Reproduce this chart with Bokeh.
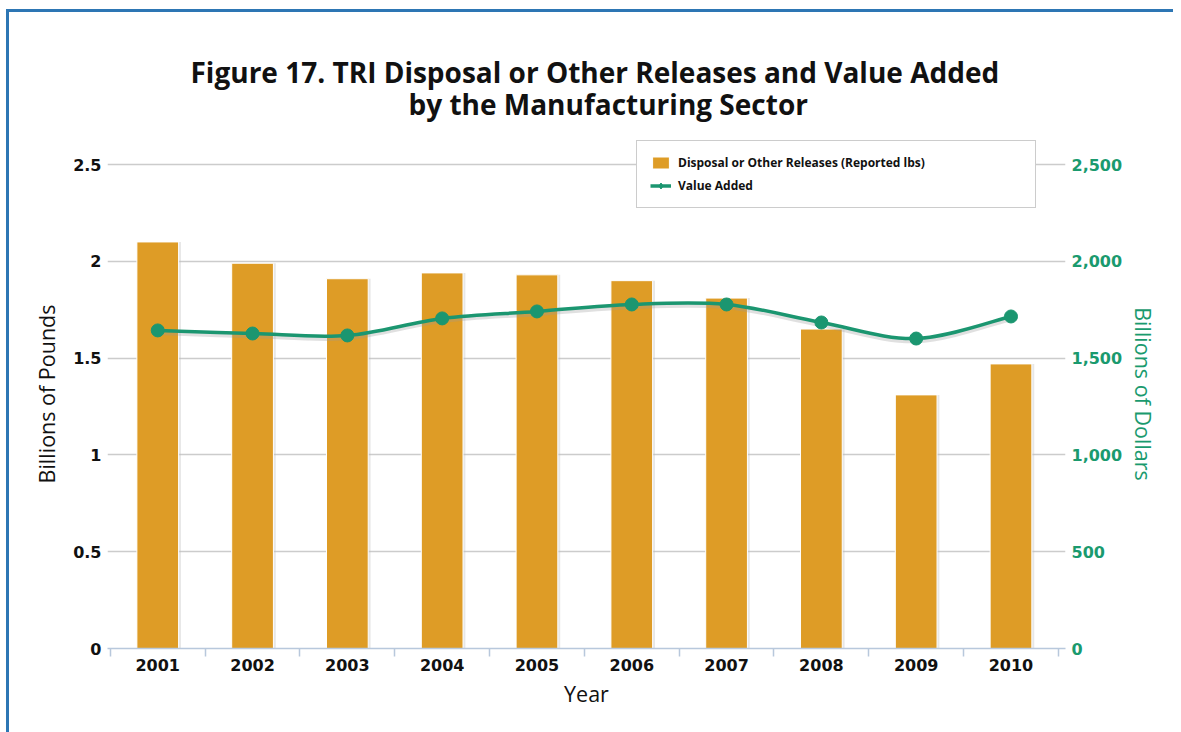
import numpy as np
from bokeh.plotting import figure
from bokeh.layouts import column
from bokeh.models import (Range1d, LinearAxis, FixedTicker, ColumnDataSource, Legend,
                          LegendItem, Label, NumeralTickFormatter)
from bokeh.embed import file_html
from bokeh.resources import INLINE

years = [2001, 2002, 2003, 2004, 2005, 2006, 2007, 2008, 2009, 2010]
releases_blbs = [2.10, 1.99, 1.91, 1.94, 1.93, 1.90, 1.81, 1.65, 1.31, 1.47]
value_added_busd = [1643, 1627, 1617, 1705, 1741, 1777, 1777, 1684, 1601, 1715]
left_ticks = [0, 0.5, 1, 1.5, 2, 2.5]
left_tick_labels = ["0", "0.5", "1", "1.5", "2", "2.5"]
right_ticks = [0, 500, 1000, 1500, 2000, 2500]
title_lines = ["Figure 17. TRI Disposal or Other Releases and Value Added",
               "by the Manufacturing Sector"]

BAR = "#de9c26"
GREEN = "#1b9670"
GREEN_TXT = "#1a9a6e"

FRAME_W = 958
FIG_W = 98 + FRAME_W + 108
TITLE_H = 110

# ---- title strip (its frame is aligned with the chart frame by the column) ----
t = figure(width=FIG_W, height=TITLE_H, x_range=Range1d(0, FRAME_W), y_range=Range1d(0, TITLE_H),
           x_axis_type=None, y_axis_type=None, output_backend="svg", toolbar_location=None,
           min_border=0)
t.outline_line_color = None
t.grid.grid_line_color = None
for txt, xpos, base in [(title_lines[0], 83, TITLE_H - 59), (title_lines[1], 301, TITLE_H - 91)]:
    t.add_layout(Label(x=xpos, y=base, text=txt, text_align="left", text_baseline="alphabetic",
                       text_font="Open Sans", text_font_style="bold", text_font_size="28px",
                       text_color="#111111"))

# ---- main chart --------------------------------------------------------
# frame is a little taller than the 0..2.5 grid so the legend fits above the top line
FRAME_H = 509
GRID_H = 484
head = FRAME_H / GRID_H

p = figure(frame_width=FRAME_W, frame_height=FRAME_H,
           x_range=Range1d(years[0] - 0.5 - 0.03, years[-1] + 0.5 + 0.075),
           y_range=Range1d(0, left_ticks[-1] * head),
           output_backend="svg", toolbar_location=None,
           min_border_left=98, min_border_right=108,
           min_border_top=17, min_border_bottom=84)
p.outline_line_color = None
p.background_fill_color = "white"
p.border_fill_color = "white"
p.extra_y_ranges = {"usd": Range1d(0, right_ticks[-1] * head)}

# bars
bsrc = ColumnDataSource(dict(x=years, top=releases_blbs,
                             xs=[y + 0.025 for y in years]))
p.vbar(x="xs", top="top", width=0.44, source=bsrc, fill_color="#bbbbbb",
       fill_alpha=0.35, line_color=None)
bars = p.vbar(x="x", top="top", width=0.44, source=bsrc, fill_color=BAR,
              line_color="white", line_width=1)

# smooth line (Catmull-Rom -> Bezier) through the value-added points
xv = np.array(years, dtype=float)
yv = np.array(value_added_busd, dtype=float)
n = len(xv)
seg = dict(x0=[], y0=[], x1=[], y1=[], cx0=[], cy0=[], cx1=[], cy1=[])
for i in range(n - 1):
    a = max(i - 1, 0)
    d = min(i + 2, n - 1)
    seg["x0"].append(xv[i]); seg["y0"].append(yv[i])
    seg["x1"].append(xv[i + 1]); seg["y1"].append(yv[i + 1])
    seg["cx0"].append(xv[i] + (xv[i + 1] - xv[a]) / 6.0)
    seg["cy0"].append(yv[i] + (yv[i + 1] - yv[a]) / 6.0)
    seg["cx1"].append(xv[i + 1] - (xv[d] - xv[i]) / 6.0)
    seg["cy1"].append(yv[i + 1] - (yv[d] - yv[i]) / 6.0)
shadow = {k: (list(np.array(v) - 14) if k.startswith(("y", "cy")) else v) for k, v in seg.items()}
p.bezier(x0="x0", y0="y0", x1="x1", y1="y1", cx0="cx0", cy0="cy0", cx1="cx1", cy1="cy1",
         source=ColumnDataSource(shadow), line_color="#999999", line_alpha=0.3, line_width=4,
         y_range_name="usd")
p.bezier(x0="x0", y0="y0", x1="x1", y1="y1", cx0="cx0", cy0="cy0", cx1="cx1", cy1="cy1",
         source=ColumnDataSource(seg), line_color=GREEN, line_width=3.5, y_range_name="usd")
p.scatter(x=years, y=value_added_busd, size=13, marker="circle", fill_color=GREEN,
          line_color=GREEN, y_range_name="usd")

# legend-only renderers (no visible marks: y is NaN)
nan_y = [float("nan")] * len(years)
leg_line = p.line(x=years, y=nan_y, line_color=GREEN, line_width=3.5, y_range_name="usd")
leg_dia = p.scatter(x=years, y=nan_y, marker="diamond", size=15, fill_color=GREEN,
                    line_color=GREEN, y_range_name="usd")

legend = Legend(items=[LegendItem(label="Disposal or Other Releases (Reported lbs)", renderers=[bars]),
                       LegendItem(label="Value Added", renderers=[leg_line, leg_dia])],
                location=(529, 440), orientation="vertical",
                label_text_font="Open Sans", label_text_font_style="bold",
                label_text_font_size="12px", label_text_color="#111111",
                glyph_width=21, glyph_height=15, label_height=17, label_width=344,
                label_standoff=7, spacing=6, padding=13, margin=0,
                border_line_color="#999999", border_line_width=1.2,
                background_fill_color="white", background_fill_alpha=1)
p.add_layout(legend, "center")

TICK_FONT = "DejaVu Sans"

# x axis
xa = p.xaxis[0]
xa.ticker = FixedTicker(ticks=years, minor_ticks=[y - 0.5 for y in years] + [years[-1] + 0.5])
xa.major_tick_line_color = None
xa.major_tick_out = 0
xa.major_tick_in = 0
xa.minor_tick_line_color = "#b8c8dc"
xa.minor_tick_out = 8
xa.minor_tick_in = 0
xa.minor_tick_line_width = 1.5
xa.axis_line_color = "#b8c8dc"
xa.axis_line_width = 1.5
xa.major_label_text_font = TICK_FONT
xa.major_label_text_font_style = "bold"
xa.major_label_text_font_size = "16px"
xa.major_label_text_color = "#111111"
xa.major_label_standoff = 2
xa.axis_label = "Year"
xa.axis_label_text_font = "Open Sans"
xa.axis_label_text_font_style = "normal"
xa.axis_label_text_font_size = "21.5px"
xa.axis_label_text_color = "#111111"
xa.axis_label_standoff = 5

# left axis
ya = p.yaxis[0]
ya.ticker = FixedTicker(ticks=left_ticks)
ya.major_label_overrides = {tk: lb for tk, lb in zip(left_ticks, left_tick_labels)}
ya.axis_line_color = None
ya.major_tick_line_color = None
ya.major_tick_out = 0
ya.major_tick_in = 0
ya.minor_tick_line_color = None
ya.major_label_text_font = TICK_FONT
ya.major_label_text_font_style = "bold"
ya.major_label_text_font_size = "16px"
ya.major_label_text_color = "#111111"
ya.major_label_standoff = 6
ya.axis_label = "Billions of Pounds"
ya.axis_label_text_font = "Open Sans"
ya.axis_label_text_font_style = "normal"
ya.axis_label_text_font_size = "21.5px"
ya.axis_label_text_color = "#111111"
ya.axis_label_standoff = 9

# right axis
ra = LinearAxis(y_range_name="usd", ticker=FixedTicker(ticks=right_ticks),
                formatter=NumeralTickFormatter(format="0,0"))
ra.axis_line_color = None
ra.major_tick_line_color = None
ra.major_tick_out = 0
ra.major_tick_in = 0
ra.minor_tick_line_color = None
ra.major_label_text_font = TICK_FONT
ra.major_label_text_font_style = "bold"
ra.major_label_text_font_size = "16px"
ra.major_label_text_color = GREEN_TXT
ra.major_label_standoff = 6
ra.axis_label = "Billions of Dollars"
ra.axis_label_text_font = "Open Sans"
ra.axis_label_text_font_style = "normal"
ra.axis_label_text_font_size = "21.5px"
ra.axis_label_text_color = GREEN_TXT
ra.axis_label_standoff = 4
p.add_layout(ra, "right")

p.xgrid.grid_line_color = None
p.ygrid.ticker = FixedTicker(ticks=left_ticks)
p.ygrid.grid_line_color = "#cccccc"
p.ygrid.grid_line_width = 1.5

page = column(t, p, spacing=0)
page.styles = {"margin-left": "6px", "margin-top": "9px",
               "border-left": "3px solid #2d76b4", "border-top": "3px solid #2d76b4"}

open("out.html", "w").write(file_html(page, INLINE))
